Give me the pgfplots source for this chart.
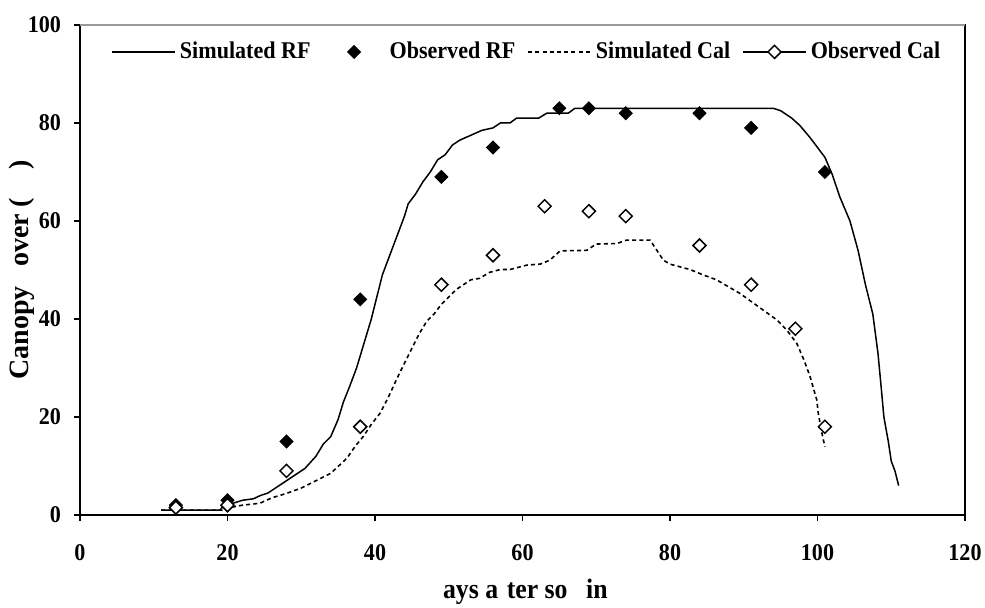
\documentclass[border=0pt]{standalone}
\usepackage{fontspec}
\setmainfont{Liberation Serif}[FakeStretch=0.92]
\newfontfamily\ylfont{Liberation Serif}
\usepackage{pgfplots}
\pgfplotsset{compat=1.18}
\usetikzlibrary{calc}
\pgfplotsset{
  mylegend/.style={legend image code/.code={\path[draw=none,fill=none] (0pt,0pt) (31.5pt,0pt); \draw[mark repeat=2,mark phase=2,##1] plot coordinates {(0pt,0pt) (15.75pt,0pt) (31.5pt,0pt)};}},
  mylegendcal/.style={legend image code/.code={\draw[black,line width=0.75pt,solid] (0pt,0pt) -- (31.5pt,0pt); \draw[##1] plot coordinates {(15.75pt,0pt)};}},
}

\begin{document}
\begin{tikzpicture}
\begin{axis}[
  name=ax,
  scale only axis,
  width=442.5pt, height=245pt,
  xmin=0, xmax=120, ymin=0, ymax=100,
  xtick={0,20,...,120}, ytick={0,20,...,100},
  xtick pos=bottom, ytick pos=left,
  tick align=outside,
  major tick length=3pt,
  axis line style={line width=0.75pt},
  tick style={black, line width=0.7pt},
  /pgf/number format/assume math mode=true,
  ticklabel style={font=\fontsize{12}{14}\selectfont\bfseries},
  xticklabel style={yshift=-8pt},
  yticklabel style={xshift=-3pt},
  xlabel={\phantom{D}ays a\phantom{f}ter so\phantom{w}in\phantom{g}},
  ylabel={\ylfont Canopy \phantom{c}over (\phantom{\%})},
  xlabel style={font=\fontsize{14}{16}\selectfont\bfseries, at={(axis description cs:0.5,0)}, anchor=center, yshift=-38.5pt},
  ylabel style={font=\fontsize{14}{16}\selectfont\bfseries, at={(axis description cs:0,0.5)}, anchor=center, yshift=29pt},
  legend columns=4,
  legend style={at={(axis description cs:0.506,0.945)}, anchor=center, draw=none, fill=none,
    font=\fontsize{12}{14}\selectfont\bfseries, inner sep=0pt,
    nodes={inner xsep=2pt, inner ysep=1pt},
    /tikz/every even column/.append style={column sep=4pt}},
]
\addplot[black, line width=0.75pt, no marks, mylegend] coordinates {
(11,1) (19,1) (19.5,2) (21,2.5) (22,3) (23.5,3.3) (24.5,4) (25.5,4.5) (27,6) (29,8)
(30.5,9.5) (32,12) (33,14.5) (34,16) (35,19.5) (35.7,23) (36.5,26) (37.5,30) (38.5,35)
(39.5,40) (40,43) (41,49) (42,53) (43,57) (44,61) (44.5,63.5) (45.5,65.5) (46.5,68)
(47.5,70) (48.5,72.5) (49.5,73.5) (50.5,75.5) (51.5,76.5) (53,77.5) (54.5,78.5) (56,79)
(57,80) (58.3,80) (59.2,81) (62.2,81) (63.3,82) (66.2,82) (67.1,83) (94,83) (95,82.5)
(96.5,81) (97.6,79.5) (99,77) (100,75) (101,73) (102,69.5) (103,65) (104.4,60) (105.5,54)
(106.5,47) (107.5,41) (108.2,33) (108.7,25) (109,20) (109.6,15) (110,11) (110.5,9) (111,6)
};
\addlegendentry{Simulated RF}
\addplot[only marks, mark=square*, mark size=2.3pt, mark options={rotate=45, fill=black, draw=black}, mylegend] coordinates {
(13,2) (20,3) (28,15) (38,44) (49,69) (56,75) (65,83) (69,83) (74,82) (84,82) (91,79) (101,70)
};
\addlegendentry{Observed RF}
\addplot[black, line width=0.8pt, dash pattern=on 2pt off 1.6pt, no marks, mylegend] coordinates {
(11,1) (20,1) (20.3,1.5) (22,2) (24.4,2.4) (26,3.5) (28,4.4) (30,5.5) (32,7) (34,8.5)
(36.2,11.6) (37.3,14) (38.4,16) (39.5,18.5) (40.7,20.8) (41.8,24) (42.9,27.6) (44,31)
(45,34) (46,37) (47,39.5) (48,41) (49,43) (50,44.5) (51,46) (52,47) (53,48) (54.2,48.3)
(55.5,49.5) (57,50.1) (58.3,50.1) (60.6,51) (62.4,51.2) (63.7,52) (65.1,53.9) (68.7,54)
(70,55.3) (72.8,55.4) (74.1,56.1) (77.3,56.1) (79.1,52) (80,51.2) (82.7,50.1) (84.5,49)
(86.3,48) (89.5,45.2) (92,42.5) (94.5,39.8) (95.8,37.8) (97.2,35) (98.2,31.5) (99,28.2)
(99.9,23.5) (100.1,20.8) (100.6,16.7) (101,13.9)
};
\addlegendentry{Simulated Cal}
\addplot[black, line width=0.75pt, only marks, mark=square*, mark size=2.3pt, mark options={rotate=45, fill=white, draw=black, solid}, mylegendcal] coordinates {
(13,1.5) (20,2) (28,9) (38,18) (49,47) (56,53) (63,63) (69,62) (74,61) (84,55) (91,47) (97,38) (101,18)
};
\addlegendentry{Observed Cal}
\end{axis}
\draw[gray!80, line width=1pt] (ax.north west) -- (ax.north east);
\pgfresetboundingbox
\path ($(ax.south west)+(-40pt,-46.5pt)$) rectangle ($(ax.north east)+(10pt,12.5pt)$);
\end{tikzpicture}
\end{document}
